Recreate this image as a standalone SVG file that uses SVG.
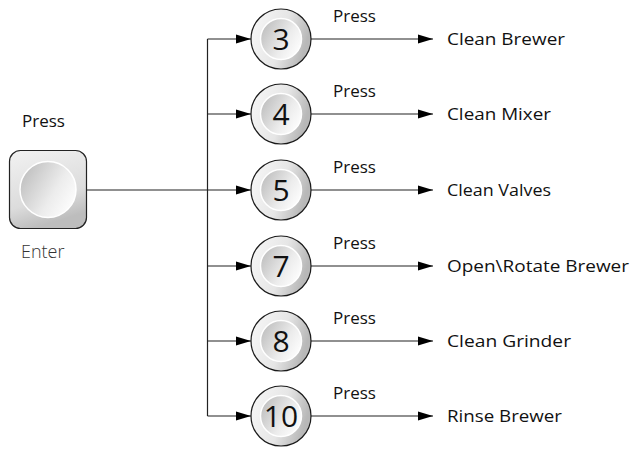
<svg xmlns="http://www.w3.org/2000/svg" width="634" height="449" viewBox="0 0 634 449">
<defs>
<linearGradient id="outerG" x1="0" y1="0" x2="1" y2="0.3">
<stop offset="0" stop-color="#f8f8f8"/>
<stop offset="0.6" stop-color="#e6e6e6"/>
<stop offset="1" stop-color="#b8b8b8"/>
</linearGradient>
<linearGradient id="innerG" x1="0" y1="0.2" x2="1" y2="0.8">
<stop offset="0" stop-color="#bdbdbd"/>
<stop offset="0.6" stop-color="#ececec"/>
<stop offset="1" stop-color="#ffffff"/>
</linearGradient>
<linearGradient id="boxG" x1="0" y1="0" x2="0.3" y2="1">
<stop offset="0" stop-color="#f2f2f2"/>
<stop offset="0.7" stop-color="#dcdcdc"/>
<stop offset="1" stop-color="#bdbdbd"/>
</linearGradient>
<marker id="ah" viewBox="0 0 15 10" refX="15" refY="5" markerWidth="15" markerHeight="10" markerUnits="userSpaceOnUse" orient="auto">
<path d="M0,0.5 L15,5 L0,9.5 Z" fill="#000"/>
</marker>
</defs>
<style>
.ln{stroke:#222;stroke-width:1.2;fill:none}
.outer{fill:url(#outerG);stroke:#1a1a1a;stroke-width:1.2}
.inner{fill:url(#innerG);stroke:#fff;stroke-width:1.5}
.num{font-family:"Open Sans","Liberation Sans",sans-serif;font-size:30px;fill:#111;text-anchor:middle}
.lbl{font-family:"Open Sans","Liberation Sans",sans-serif;font-size:17px;fill:#111}
.enter{font-family:"Open Sans","Liberation Sans",sans-serif;font-size:18px;font-weight:300;fill:#333}
</style>
<g id="connectors">
<path class="ln" d="M207.5,39 V416"/>
<path class="ln" d="M87,190 H251" marker-end="url(#ah)"/>
<path class="ln" d="M207.5,39 H251" marker-end="url(#ah)"/>
<path class="ln" d="M207.5,114 H251" marker-end="url(#ah)"/>
<path class="ln" d="M207.5,266 H251" marker-end="url(#ah)"/>
<path class="ln" d="M207.5,341 H251" marker-end="url(#ah)"/>
<path class="ln" d="M207.5,416 H251" marker-end="url(#ah)"/>
<path class="ln" d="M311,39 H433" marker-end="url(#ah)"/>
<path class="ln" d="M311,114 H433" marker-end="url(#ah)"/>
<path class="ln" d="M311,190 H433" marker-end="url(#ah)"/>
<path class="ln" d="M311,266 H433" marker-end="url(#ah)"/>
<path class="ln" d="M311,341 H433" marker-end="url(#ah)"/>
<path class="ln" d="M311,416 H433" marker-end="url(#ah)"/>
<text class="lbl" x="333" y="22">Press</text>
<text class="lbl" x="333" y="97">Press</text>
<text class="lbl" x="333" y="173">Press</text>
<text class="lbl" x="333" y="249">Press</text>
<text class="lbl" x="333" y="324">Press</text>
<text class="lbl" x="333" y="399">Press</text>
</g>
<g id="enter">
<text class="lbl" x="22" y="127">Press</text>
<rect x="9.5" y="150.5" width="77" height="78" rx="11" fill="url(#boxG)" stroke="#222" stroke-width="1.2"/>
<circle cx="48" cy="189.5" r="28" class="inner"/>
<text class="enter" x="21" y="258">Enter</text>
</g>
<g id="n3"><circle cx="281" cy="39" r="30" class="outer"/><circle cx="281" cy="39" r="20.5" class="inner"/><text class="num" x="281" y="50">3</text></g>
<g id="n4"><circle cx="281" cy="114" r="30" class="outer"/><circle cx="281" cy="114" r="20.5" class="inner"/><text class="num" x="281" y="125">4</text></g>
<g id="n5"><circle cx="281" cy="190" r="30" class="outer"/><circle cx="281" cy="190" r="20.5" class="inner"/><text class="num" x="281" y="201">5</text></g>
<g id="n7"><circle cx="281" cy="266" r="30" class="outer"/><circle cx="281" cy="266" r="20.5" class="inner"/><text class="num" x="281" y="277">7</text></g>
<g id="n8"><circle cx="281" cy="341" r="30" class="outer"/><circle cx="281" cy="341" r="20.5" class="inner"/><text class="num" x="281" y="352">8</text></g>
<g id="n10"><circle cx="281" cy="416" r="30" class="outer"/><circle cx="281" cy="416" r="20.5" class="inner"/><text class="num" x="281" y="427">10</text></g>
<g id="a3"><text class="lbl" x="447" y="45" textLength="118" lengthAdjust="spacingAndGlyphs">Clean Brewer</text></g>
<g id="a4"><text class="lbl" x="447" y="120" textLength="104" lengthAdjust="spacingAndGlyphs">Clean Mixer</text></g>
<g id="a5"><text class="lbl" x="447" y="196" textLength="104" lengthAdjust="spacingAndGlyphs">Clean Valves</text></g>
<g id="a7"><text class="lbl" x="447" y="272" textLength="182" lengthAdjust="spacingAndGlyphs">Open\Rotate Brewer</text></g>
<g id="a8"><text class="lbl" x="447" y="347" textLength="124" lengthAdjust="spacingAndGlyphs">Clean Grinder</text></g>
<g id="a10"><text class="lbl" x="447" y="422" textLength="115" lengthAdjust="spacingAndGlyphs">Rinse Brewer</text></g>
</svg>
